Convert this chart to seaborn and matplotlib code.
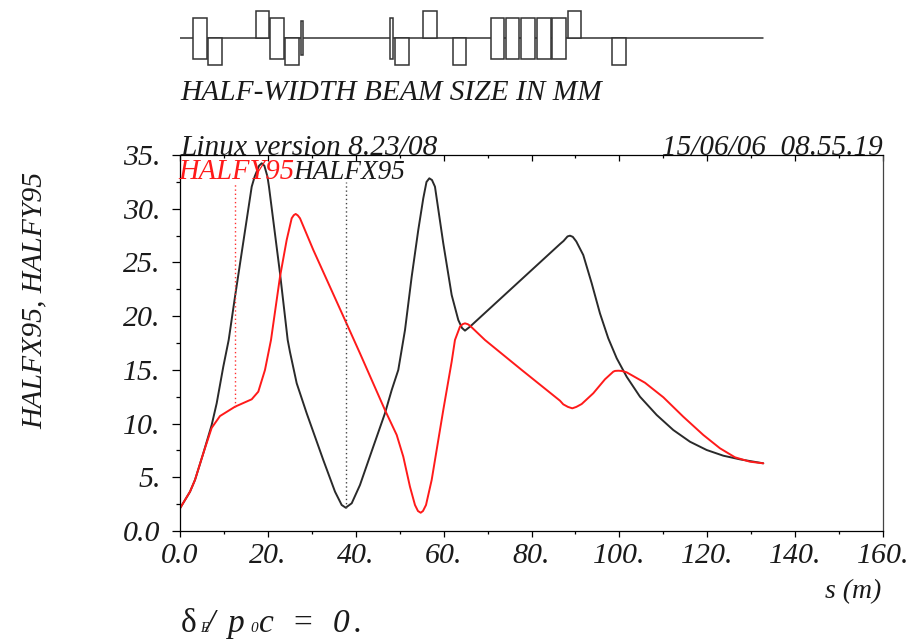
import pandas as pd
import seaborn as sns
import matplotlib.pyplot as plt
from matplotlib.ticker import MultipleLocator

# beam size curves
s_x = [0, 2.28, 3.41, 5.30, 7.21, 8.35, 9.85, 11.08, 12.52, 16.32, 17.0, 18.0, 18.6, 19.2, 19.9, 20.25, 22.76, 24.51,
       25.03, 26.56, 28.83, 32.61, 35.28, 36.8, 37.71, 39.08, 40.96, 43.99, 46.65, 48.18, 49.68, 51.21,
       52.73, 54.23, 55.37, 56.1, 56.74, 57.35, 58.03, 59.92, 61.83, 63.34, 64.18, 64.86, 66.0, 86.48,
       87.3, 88.2, 88.76, 89.4, 90.2, 91.78, 93.7, 95.58, 97.47, 99.39, 101.66, 104.69, 108.49, 112.27, 116.07,
       119.87, 123.65, 127.45, 132.75]
halfx = [2.11, 3.66, 4.75, 7.23, 9.87, 11.89, 15.29, 17.78, 21.81, 32.05, 33.0, 34.0, 34.23, 34.0, 33.0, 32.05, 23.99, 17.78,
         16.66, 13.75, 10.96, 6.61, 3.66, 2.42, 2.17, 2.58, 4.28, 7.85, 10.96, 13.12, 14.99, 18.71,
         23.67, 28.02, 30.97, 32.49, 32.83, 32.67, 32.05, 26.78, 21.97, 19.64, 18.9, 18.65, 19.02, 26.71,
         27.0, 27.42, 27.49, 27.38, 26.95, 25.69, 23.06, 20.26, 17.94, 16.08, 14.36, 12.5, 10.8, 9.4, 8.31,
         7.54, 7.01, 6.67, 6.3]
s_y = [0, 2.28, 3.41, 5.30, 7.21, 9.1, 12.52, 16.32, 17.82, 19.34, 20.71, 22.76, 24.28, 25.42, 25.9, 26.33, 26.8, 27.31,
       30.34, 37.55, 40.96, 46.65, 49.32, 50.82, 52.34, 53.48, 54.16, 54.78, 55.3, 55.99, 57.28, 59.92,
       61.83, 62.58, 63.72, 64.3, 64.86, 65.5, 66.0, 69.41, 77.77, 86.48, 87.23, 88.3, 89.28, 90.2, 91.42, 94.06, 96.72, 98.61,
       99.0, 99.75, 100.5, 101.66, 105.83, 110.0, 114.54, 119.1, 122.89, 126.31, 129.72, 132.75]
halfy = [2.11, 3.66, 4.75, 7.23, 9.6, 10.7, 11.57, 12.26, 12.97, 14.99, 17.78, 23.67, 27.09, 29.11, 29.4, 29.51, 29.38, 29.11,
         26.16, 19.64, 16.54, 11.26, 8.94, 6.92, 4.12, 2.42, 1.86, 1.7, 1.86, 2.42, 4.75, 11.26,
         15.76, 17.78, 19.02, 19.25, 19.33, 19.25, 19.11, 17.78, 14.99, 12.13, 11.79, 11.55, 11.42, 11.55, 11.82, 12.82, 14.12, 14.83,
         14.9, 14.92, 14.9, 14.77, 13.8, 12.45, 10.64, 8.94, 7.7, 6.86, 6.45, 6.3]

# lattice elements (start, end in s, extent around the beam line)
elem_start = [3.05, 6.35, 17.25, 20.48, 23.96, 27.47, 47.77, 48.9, 55.37, 62.08, 70.71, 74.1, 77.6, 81.18, 84.75, 88.33, 98.27]
elem_end = [6.19, 9.49, 20.3, 23.71, 27.1, 28.06, 48.57, 52.05, 58.42, 65.13, 73.67, 77.15, 80.72, 84.39, 87.89, 91.28, 101.41]
elem_top = [20.5, 0, 27, 20.5, 0, 17, 20.5, 0, 27, 0, 20.5, 20.5, 20.5, 20.5, 20.5, 27, 0]
elem_bot = [-20.5, -27, 0, -20.5, -27, -17, -20.5, -27, 0, -27, -20.5, -20.5, -20.5, -20.5, -20.5, 0, -27]

x_ticks = [0, 20, 40, 60, 80, 100, 120, 140, 160]
x_labels = ['0.0', '20.', '40.', '60.', '80.', '100.', '120.', '140.', '160.']
y_ticks = [0, 5, 10, 15, 20, 25, 30, 35]
y_labels = ['0.0', '5.', '10.', '15.', '20.', '25.', '30.', '35.']

sns.set_style('ticks')
plt.rcParams['font.family'] = ['Liberation Serif', 'DejaVu Serif']
plt.rcParams['font.style'] = 'italic'

W, H = 913, 640
ink = '#1a1a1a'
fig = plt.figure(figsize=(W / 100, H / 100), dpi=100)
ax = fig.add_axes([180 / W, 109 / H, 703 / W, 376 / H])

sns.lineplot(data=pd.DataFrame({'s': s_x, 'v': halfx}), x='s', y='v', estimator=None, sort=False,
             color='#2a2a2a', lw=1.4, ax=ax)
sns.lineplot(data=pd.DataFrame({'s': s_y, 'v': halfy}), x='s', y='v', estimator=None, sort=False,
             color='#ff1a1a', lw=1.4, ax=ax)
ax.vlines(12.52, 11.57, 32.5, color='#ff3030', lw=1.0, ls=(0, (1, 2)))
ax.vlines(37.71, 2.17, 32.5, color='#444444', lw=1.0, ls=(0, (1, 2)))

ax.set_xlim(0, 160)
ax.set_ylim(0, 35)
ax.set_xlabel('')
ax.set_ylabel('')
ax.set_xticks(x_ticks, x_labels, fontsize=21.5)
ax.set_yticks(y_ticks, y_labels, fontsize=21.5)
ax.xaxis.set_minor_locator(MultipleLocator(10))
ax.yaxis.set_minor_locator(MultipleLocator(2.5))
ax.tick_params(axis='x', which='major', length=4.5, width=0.9, color='black', pad=4, labelcolor=ink)
ax.tick_params(axis='x', which='minor', length=2, width=0.9, color='black')
ax.tick_params(axis='y', which='major', length=6, width=0.9, color='black', pad=8, labelcolor=ink)
ax.tick_params(axis='y', which='minor', length=3, width=0.9, color='black')
for sp in ax.spines.values():
    sp.set_visible(True)
    sp.set_linewidth(0.9)
    sp.set_color('black')
ax.spines['right'].set_color('#444444')

top = ax.secondary_xaxis('top')
top.set_xticks(x_ticks, [])
top.xaxis.set_minor_locator(MultipleLocator(10))
top.tick_params(axis='x', which='major', direction='in', length=4.5, width=0.9, color='black')
top.tick_params(axis='x', which='minor', direction='in', length=2, width=0.9, color='black')
top.spines['top'].set_visible(False)

# lattice strip above the plot
ax_l = fig.add_axes([180 / W, (H - 71) / H, 703 / W, 66 / H])
ax_l.set_xlim(0, 160)
ax_l.set_ylim(-33, 33)
ax_l.axis('off')
sns.lineplot(x=[0, s_x[-1]], y=[0, 0], color='#333333', lw=1.1, ax=ax_l, legend=False)
for a, b, t, u in zip(elem_start, elem_end, elem_top, elem_bot):
    ax_l.bar(a, t - u, width=b - a, bottom=u, align='edge', facecolor='white', edgecolor='#333333', lw=1.1, zorder=3)


def put(px, py, txt, size=24, ha='left', **kw):
    kw.setdefault('color', ink)
    return fig.text(px / W, 1 - py / H, txt, fontsize=size, ha=ha, va='baseline', **kw)


put(180, 100, 'HALF-WIDTH BEAM SIZE IN MM', 21.2)
put(180, 155, 'Linux version 8.23/08', 21.2)
put(883, 155, '15/06/06  08.55.19', 21, ha='right')
put(178, 179, 'HALFY95', 20.6, color='#ff1a1a')
put(293, 179, 'HALFX95', 19.5)
put(881, 598, 's (m)', 20, ha='right')
fig.text(35 / W, 1 - 300 / H, 'HALFX95, HALFY95', fontsize=21.3, rotation=90, ha='center', va='center', color=ink)

put(181, 632, '\u03b4', 24, style='normal')
put(200, 632, 'E', 10)
put(206, 632, '/', 24)
put(228, 632, 'p', 24)
put(250, 632, '0', 11)
put(259, 632, 'c', 24)
put(293, 632, '=', 24, style='normal')
put(333, 632, '0', 24)
put(354, 632, '.', 24)

fig.savefig('out.png', dpi=100)
